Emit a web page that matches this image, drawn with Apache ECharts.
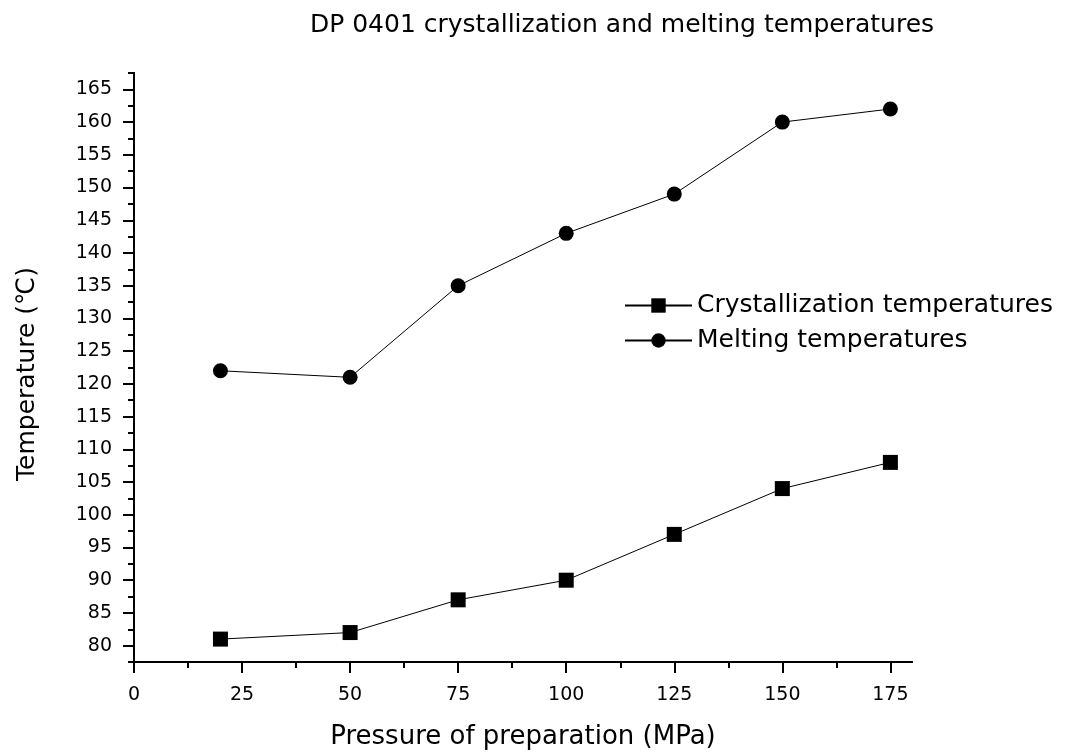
<!DOCTYPE html>
<html>
<head>
<meta charset="utf-8">
<script src="https://cdn.jsdelivr.net/npm/echarts@6/dist/echarts.min.js"></script>
<style>
  html, body { margin: 0; padding: 0; background: #fff; }
  #chart { width: 1065px; height: 753px; }
</style>
</head>
<body>
<div id="chart"></div>
<script>
// data
const pressure = [20, 50, 75, 100, 125, 150, 175];
const crystallization = [81, 82, 87, 90, 97, 104, 108];
const melting = [122, 121, 135, 143, 149, 160, 162];

const xMajor = [0, 25, 50, 75, 100, 125, 150, 175];
const xMinor = [12.5, 37.5, 62.5, 87.5, 112.5, 137.5, 162.5];
const yMajor = [80, 85, 90, 95, 100, 105, 110, 115, 120, 125, 130, 135, 140, 145, 150, 155, 160, 165];
const yMinor = [77.5, 82.5, 87.5, 92.5, 97.5, 102.5, 107.5, 112.5, 117.5, 122.5, 127.5, 132.5, 137.5, 142.5, 147.5, 152.5, 157.5, 162.5, 167.5];

const FONT = "DejaVu Sans, Liberation Sans, Arial, sans-serif";

const chart = echarts.init(document.getElementById("chart"));

const axisBase = {
    type: "value",
    splitLine: { show: false },
    axisLine: { show: true, onZero: false, lineStyle: { color: "#000", width: 2 } },
};

chart.setOption({
    animation: false,
    backgroundColor: "#fff",
    title: {
        text: "DP 0401 crystallization and melting temperatures",
        left: 617, top: 8, textAlign: "center",
        textStyle: { fontFamily: FONT, fontSize: 25, fontWeight: "normal", color: "#000" }
    },
    grid: { left: 134, right: 153, top: 73, bottom: 91, outerBoundsMode: "none", containLabel: false },
    legend: {
        orient: "vertical",
        left: 619, top: 288,
        itemWidth: 67, itemHeight: 18, itemGap: 10,
        textStyle: { fontFamily: FONT, fontSize: 25, color: "#000" },
        data: ["Crystallization temperatures", "Melting temperatures"]
    },
    xAxis: [
        Object.assign({}, axisBase, {
            min: 0, max: 180,
            name: "Pressure of preparation (MPa)",
            nameLocation: "middle", nameGap: 62,
            nameTextStyle: { fontFamily: FONT, fontSize: 26, color: "#000" },
            axisTick: { show: true, inside: false, length: 11, customValues: xMajor, lineStyle: { color: "#000", width: 2 } },
            axisLabel: { customValues: xMajor, fontFamily: FONT, fontSize: 19, color: "#000", margin: 24 }
        }),
        Object.assign({}, axisBase, {
            min: 0, max: 180, position: "bottom",
            axisTick: { show: true, length: 6, customValues: xMinor, lineStyle: { color: "#000", width: 2 } },
            axisLabel: { show: false }
        })
    ],
    yAxis: [
        Object.assign({}, axisBase, {
            min: 77.5, max: 167.5,
            name: "Temperature (\u2103)",
            nameLocation: "middle", nameGap: 94,
            nameTextStyle: { fontFamily: FONT, fontSize: 25, color: "#000", padding: [0, 13, 0, 0] },
            axisTick: { show: true, inside: false, length: 11, customValues: yMajor, lineStyle: { color: "#000", width: 2 } },
            axisLabel: { customValues: yMajor, fontFamily: FONT, fontSize: 19, color: "#000", margin: 22 }
        }),
        Object.assign({}, axisBase, {
            min: 77.5, max: 167.5, position: "left",
            axisTick: { show: true, length: 6, customValues: yMinor, lineStyle: { color: "#000", width: 2 } },
            axisLabel: { show: false }
        })
    ],
    series: [
        {
            name: "Crystallization temperatures",
            type: "line",
            data: pressure.map((p, i) => [p, crystallization[i]]),
            symbol: "rect", symbolSize: 15,
            itemStyle: { color: "#000" },
            lineStyle: { color: "#000", width: 1 }
        },
        {
            name: "Melting temperatures",
            type: "line",
            data: pressure.map((p, i) => [p, melting[i]]),
            symbol: "circle", symbolSize: 15,
            itemStyle: { color: "#000" },
            lineStyle: { color: "#000", width: 1 }
        }
    ]
});
</script>
</body>
</html>
